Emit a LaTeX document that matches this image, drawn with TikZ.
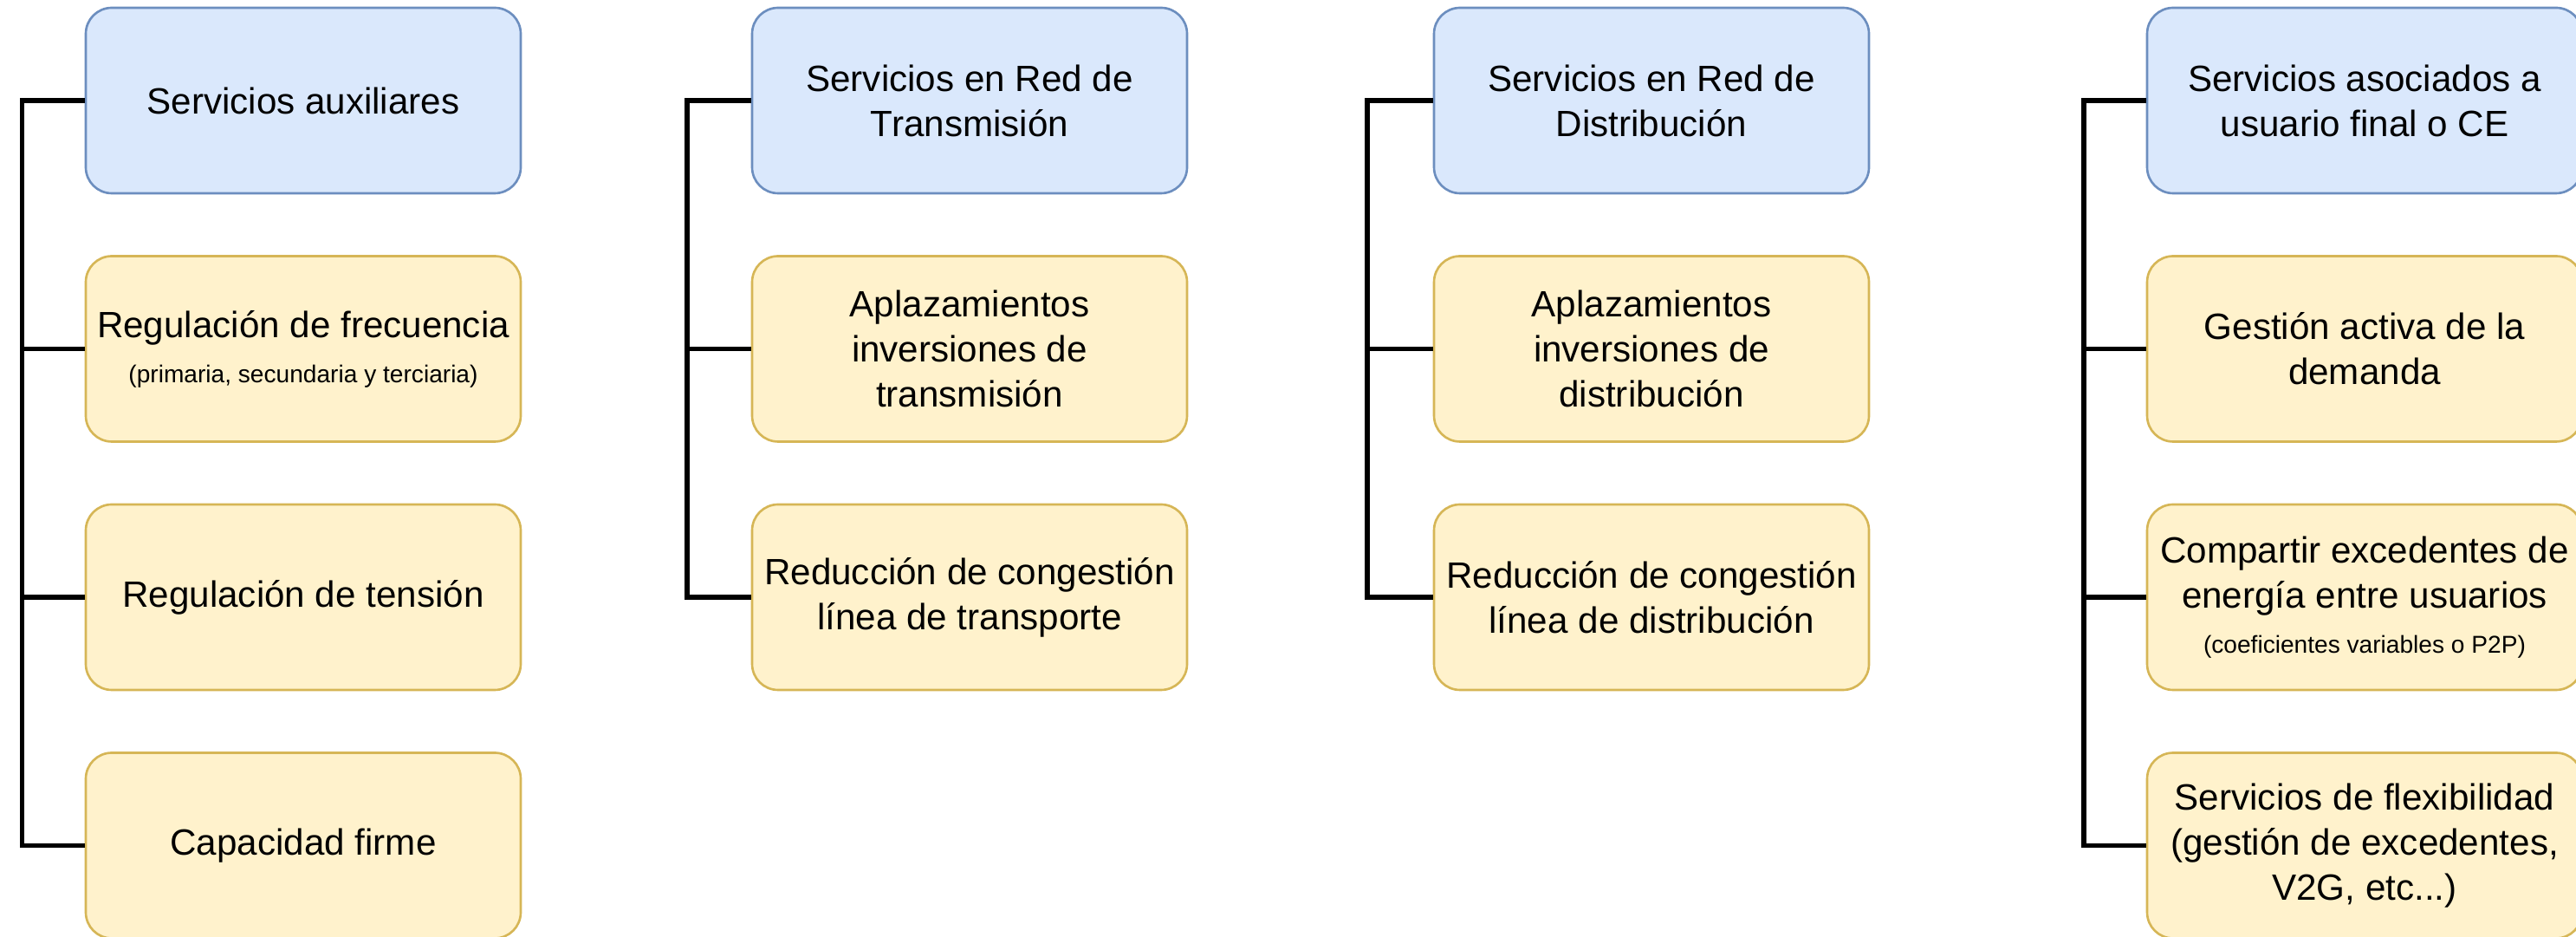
\documentclass[tikz,border=0pt]{standalone}
\usepackage{fontspec}
\setmainfont{Liberation Sans}
\definecolor{fondoazul}{HTML}{DAE8FC}
\definecolor{bordeazul}{HTML}{6C8EBF}
\definecolor{fondoamarillo}{HTML}{FFF2CC}
\definecolor{bordeamarillo}{HTML}{D6B656}
\newcommand{\nota}[1]{{\fontsize{8}{9.6}\selectfont #1}}
\begin{document}
\begin{tikzpicture}[
        caja/.style={rounded corners=0.3cm, line width=0.75pt, minimum width=5.02cm, minimum height=2.14cm,
            inner sep=0pt, align=center, font=\fontsize{12}{14.8}\selectfont},
        cabecera/.style={caja, draw=bordeazul, fill=fondoazul},
        servicio/.style={caja, draw=bordeamarillo, fill=fondoamarillo},
        rama/.style={line width=1.6pt}
    ]
                \useasboundingbox (0,0) rectangle (29.73,-10.81);
                \node [cabecera] (aux) at (3.50,-1.16) {Servicios auxiliares};
                \node [servicio] (frec) at (3.50,-4.025) {Regulación de frecuencia\\\nota{(primaria, secundaria y terciaria)}};
                \node [servicio] (ten) at (3.50,-6.89) {Regulación de tensión};
                \node [servicio] (cap) at (3.50,-9.755) {Capacidad firme};
                \node [cabecera] (rt) at (11.19,-1.16) {Servicios en Red de\\Transmisión};
                \node [servicio] (rtapl) at (11.19,-4.025) {Aplazamientos\\inversiones de\\transmisión};
                \node [servicio] (rtcon) at (11.19,-6.89) {Reducción de congestión\\línea de transporte};
                \node [cabecera] (rd) at (19.06,-1.16) {Servicios en Red de\\Distribución};
                \node [servicio] (rdapl) at (19.06,-4.025) {Aplazamientos\\inversiones de\\distribución};
                \node [servicio] (rdcon) at (19.06,-6.89) {Reducción de congestión\\línea de distribución};
                \node [cabecera] (uf) at (27.29,-1.16) {Servicios asociados a\\usuario final o CE};
                \node [servicio] (ufdem) at (27.29,-4.025) {Gestión activa de la\\demanda};
                \node [servicio] (ufexc) at (27.29,-6.89) {Compartir excedentes de\\energía entre usuarios\\\nota{(coeficientes variables o P2P)}};
                \node [servicio] (ufflex) at (27.29,-9.755) {Servicios de flexibilidad\\(gestión de excedentes,\\V2G, etc...)};
                \draw [rama] (aux.west) -- ++(-0.72,0) |- (cap.west);
                \draw [rama] (rt.west) -- ++(-0.74,0) |- (rtcon.west);
                \draw [rama] (rd.west) -- ++(-0.76,0) |- (rdcon.west);
                \draw [rama] (uf.west) -- ++(-0.72,0) |- (ufflex.west);
                \foreach \n in {frec,ten} \draw [rama] (\n.west) -- ++(-0.72,0);
                \draw [rama] (rtapl.west) -- ++(-0.74,0);
                \draw [rama] (rdapl.west) -- ++(-0.76,0);
                \foreach \n in {ufdem,ufexc} \draw [rama] (\n.west) -- ++(-0.72,0);
            \end{tikzpicture}
\end{document}
